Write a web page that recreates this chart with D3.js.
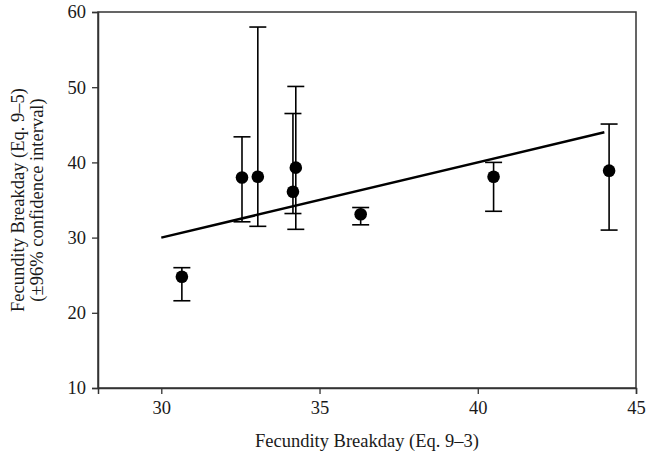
<!DOCTYPE html>
<html>
<head>
<meta charset="utf-8">
<script src="https://cdn.jsdelivr.net/npm/d3@7"></script>
<style>
  html, body { margin: 0; padding: 0; background: #fff; }
  svg text { font-family: "Liberation Serif", "DejaVu Serif", serif; fill: #1a1a1a; }
</style>
</head>
<body>
<svg id="chart" width="646" height="455"></svg>
<script>
// Data
const xVals  = [30.65, 32.55, 33.05, 34.16, 34.25, 36.3, 40.5, 44.15];
const yVals  = [24.8, 38.0, 38.1, 36.1, 39.3, 33.1, 38.1, 38.9];
const loVals = [21.6, 32.1, 31.5, 33.2, 31.1, 31.7, 33.5, 31.0];
const hiVals = [26.0, 43.4, 58.0, 46.5, 50.1, 34.0, 40.0, 45.1];
const lineX  = [30, 44];
const lineY  = [30, 44];
const xTicks = [30, 35, 40, 45];
const yTicks = [10, 20, 30, 40, 50, 60];
const xDomain = [28, 45];
const yDomain = [10, 60];

const W = 646, H = 455;
const m = { left: 98, right: 10, top: 12, bottom: 67 };
const svg = d3.select("#chart");

const x = d3.scaleLinear().domain(xDomain).range([m.left, W - m.right]);
const y = d3.scaleLinear().domain(yDomain).range([H - m.bottom, m.top]);

const axisColor = "#333";

// frame
svg.append("rect")
  .attr("x", m.left).attr("y", m.top)
  .attr("width", W - m.left - m.right).attr("height", H - m.top - m.bottom)
  .attr("fill", "none").attr("stroke", axisColor).attr("stroke-width", 1.5);

const fontSize = 18.5;

const gx = svg.append("g")
  .attr("transform", `translate(0,${H - m.bottom})`)
  .call(d3.axisBottom(x).tickValues(xTicks).tickSize(6).tickPadding(7).tickFormat(d3.format("d")));
const gy = svg.append("g")
  .attr("transform", `translate(${m.left},0)`)
  .call(d3.axisLeft(y).tickValues(yTicks).tickSize(6).tickPadding(6).tickFormat(d3.format("d")));

[gx, gy].forEach(g => {
  g.select(".domain").attr("stroke", axisColor).attr("stroke-width", 1.5);
  g.selectAll(".tick line").attr("stroke", axisColor).attr("stroke-width", 1.3);
  g.selectAll(".tick text")
    .attr("font-family", "Liberation Serif, DejaVu Serif, serif")
    .attr("font-size", fontSize).attr("fill", "#1a1a1a");
});

// reference line
const lineData = lineX.map((v, i) => [v, lineY[i]]);
svg.append("path")
  .datum(lineData)
  .attr("d", d3.line().x(d => x(d[0])).y(d => y(d[1])))
  .attr("stroke", "#000").attr("stroke-width", 2.5).attr("fill", "none");

// error bars
const data = xVals.map((v, i) => ({ x: v, y: yVals[i], lo: loVals[i], hi: hiVals[i] }));
const cap = 8.5;
const eb = svg.append("g").attr("stroke", "#000").attr("stroke-width", 1.6);
data.forEach(d => {
  eb.append("line").attr("x1", x(d.x)).attr("x2", x(d.x)).attr("y1", y(d.lo)).attr("y2", y(d.hi));
  eb.append("line").attr("x1", x(d.x) - cap).attr("x2", x(d.x) + cap).attr("y1", y(d.lo)).attr("y2", y(d.lo));
  eb.append("line").attr("x1", x(d.x) - cap).attr("x2", x(d.x) + cap).attr("y1", y(d.hi)).attr("y2", y(d.hi));
});

// points
svg.append("g").selectAll("circle").data(data).join("circle")
  .attr("cx", d => x(d.x)).attr("cy", d => y(d.y)).attr("r", 6.3)
  .attr("fill", "#000");

// axis titles
svg.append("text")
  .attr("x", (m.left + W - m.right) / 2).attr("y", 447)
  .attr("text-anchor", "middle").attr("font-size", fontSize)
  .text("Fecundity Breakday (Eq. 9–3)");

const cy = (m.top + H - m.bottom) / 2;
svg.append("text")
  .attr("transform", `translate(24,${cy}) rotate(-90)`)
  .attr("text-anchor", "middle").attr("font-size", fontSize)
  .text("Fecundity Breakday (Eq. 9–5)");
svg.append("text")
  .attr("transform", `translate(43,${cy}) rotate(-90)`)
  .attr("text-anchor", "middle").attr("font-size", fontSize)
  .text("(±96% confidence interval)");
</script>
</body>
</html>
